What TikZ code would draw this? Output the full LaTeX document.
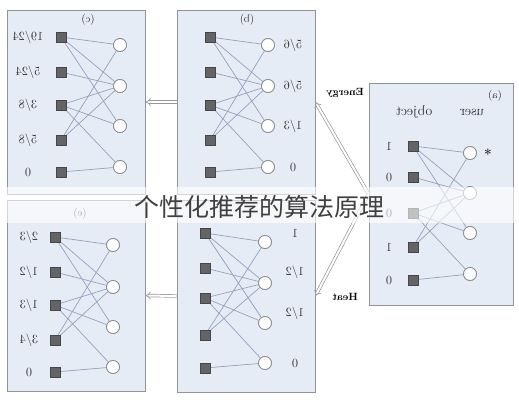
\documentclass[tikz,border=0pt]{standalone}
\usepackage{fontspec}
\usepackage{graphicx}
\usetikzlibrary{arrows.meta}
\newfontfamily\cjk{Noto Sans CJK SC}
\definecolor{panelfill}{RGB}{230,236,246}
\definecolor{panelline}{RGB}{145,147,155}
\definecolor{linkcol}{RGB}{150,162,188}
\definecolor{objfill}{RGB}{100,100,102}
\definecolor{labcol}{RGB}{45,45,45}
\newcommand{\mirr}[1]{\reflectbox{#1}}

\tikzset{
	panel/.style={draw=panelline, fill=panelfill, line width=0.9pt},
	obj/.style={draw=objfill!70!black, fill=objfill, minimum size=9.5pt, inner sep=0pt},
	usr/.style={circle, draw=gray!90, fill=white, line width=0.8pt, minimum size=13pt, inner sep=0pt},
	link/.style={draw=linkcol, line width=0.7pt},
	val/.style={text=labcol, font=\fontsize{12.5}{14}\selectfont},
	head/.style={text=labcol, font=\fontsize{14}{16}\selectfont},
	tag/.style={text=labcol, font=\fontsize{11}{13}\selectfont},
	flow/.style={draw=gray!80, double=white, double distance=2pt, line width=0.7pt, -{Implies}},
}

\begin{document}
\begin{tikzpicture}[x=1pt, y=-1pt]
	\useasboundingbox (0,0) rectangle (519,400);

	% panels
	\node[panel, minimum width=138pt, minimum height=184pt] (pc) at (76,102) {};
	\node[panel, minimum width=138pt, minimum height=184pt] (pb) at (246,102) {};
	\node[panel, minimum width=138pt, minimum height=191pt] (pe) at (76,295.5) {};
	\node[panel, minimum width=138pt, minimum height=192pt] (pd) at (246,296) {};
	\node[panel, minimum width=144pt, minimum height=222pt] (pa) at (441,194) {};

	% objects and users
	\foreach \y [count=\i] in {37,72,105,140,172} \node[obj] (c-o\i) at (61,\y) {};
	\foreach \y [count=\i] in {45,86,126,167} \node[usr] (c-u\i) at (120,\y) {};
	\foreach \y [count=\i] in {37,72,105,140,172} \node[obj] (b-o\i) at (210,\y) {};
	\foreach \y [count=\i] in {45,86,126,167} \node[usr] (b-u\i) at (268,\y) {};
	\foreach \y [count=\i] in {237,272,305,340,372} \node[obj] (e-o\i) at (55,\y) {};
	\foreach \y [count=\i] in {245,287,327,367} \node[usr] (e-u\i) at (113,\y) {};
	\foreach \y [count=\i] in {233,268,298,335,368} \node[obj] (d-o\i) at (205,\y) {};
	\foreach \y [count=\i] in {242,283,323,363} \node[usr] (d-u\i) at (265,\y) {};
	\foreach \y [count=\i] in {146,177,213,247,280} \node[obj] (a-o\i) at (413,\y) {};
	\foreach \y [count=\i] in {153,193,233,274} \node[usr] (a-u\i) at (470,\y) {};

	\foreach \p in {a,b,c,d,e}
		\foreach \o/\u in {1/1,1/2,1/3,2/2,3/2,3/3,3/4,4/1,4/2,5/4}
			\draw[link] (\p-o\o.center) -- (\p-u\u);
	% redraw markers over the links
	\foreach \p in {a,b,c,d,e} {
		\foreach \i in {1,...,5} \node[obj] at (\p-o\i) {};
		\foreach \i in {1,...,4} \node[usr] at (\p-u\i) {};
	}

	% panel tags
	\node[tag] at (88,20) {\mirr{(c)}};
	\node[tag] at (247,20) {\mirr{(b)}};
	\node[tag] at (80,214) {\mirr{(e)}};
	\node[tag] at (495,96) {\mirr{(a)}};

	% values
	\foreach \t/\y in {{19/24}/37,{5/24}/72,{3/8}/105,{5/8}/140,0/172}
		\node[val] at (28,\y) {\mirr{\t}};
	\foreach \t/\y in {{5/6}/45,{5/6}/86,{1/3}/126,0/167}
		\node[val] at (293,\y) {\mirr{\t}};
	\foreach \t/\y in {{2/3}/237,{1/2}/272,{1/3}/305,{3/4}/340,0/372}
		\node[val] at (29,\y) {\mirr{\t}};
	\foreach \t/\y in {1/233,{1/2}/272,{1/2}/313,0/363}
		\node[val] at (295,\y) {\mirr{\t}};
	\foreach \t/\y in {1/146,0/177,0/213,1/247,0/280}
		\node[val] at (389,\y) {\mirr{\t}};
	\node[head] at (414,112) {\mirr{object}};
	\node[head] at (472,112) {\mirr{user}};
	\node[head, font=\fontsize{14}{16}\selectfont\bfseries] at (488,154) {\mirr{*}};

	% propagation arrows
	\draw[flow] (pb.west) -- (pc.east);
	\draw[flow] (pd.west) -- (pe.east);
	\draw[flow] (pa.west) -- (pb.east);
	\draw[flow] (pa.west) -- (pd.east);
	\node[text=black, font=\fontsize{10.5}{12}\selectfont\bfseries] at (345,93) {\mirr{Energy}};
	\node[text=black, font=\fontsize{10.5}{12}\selectfont\bfseries] at (345,297) {\mirr{Heat}};

	% caption band
	\fill[white, opacity=0.6] (0,187) rectangle (519,223);
	\node[text=black!75, font=\cjk\fontsize{25}{28}\selectfont] (title) at (259,207) {个性化推荐的算法原理};
\end{tikzpicture}
\end{document}
